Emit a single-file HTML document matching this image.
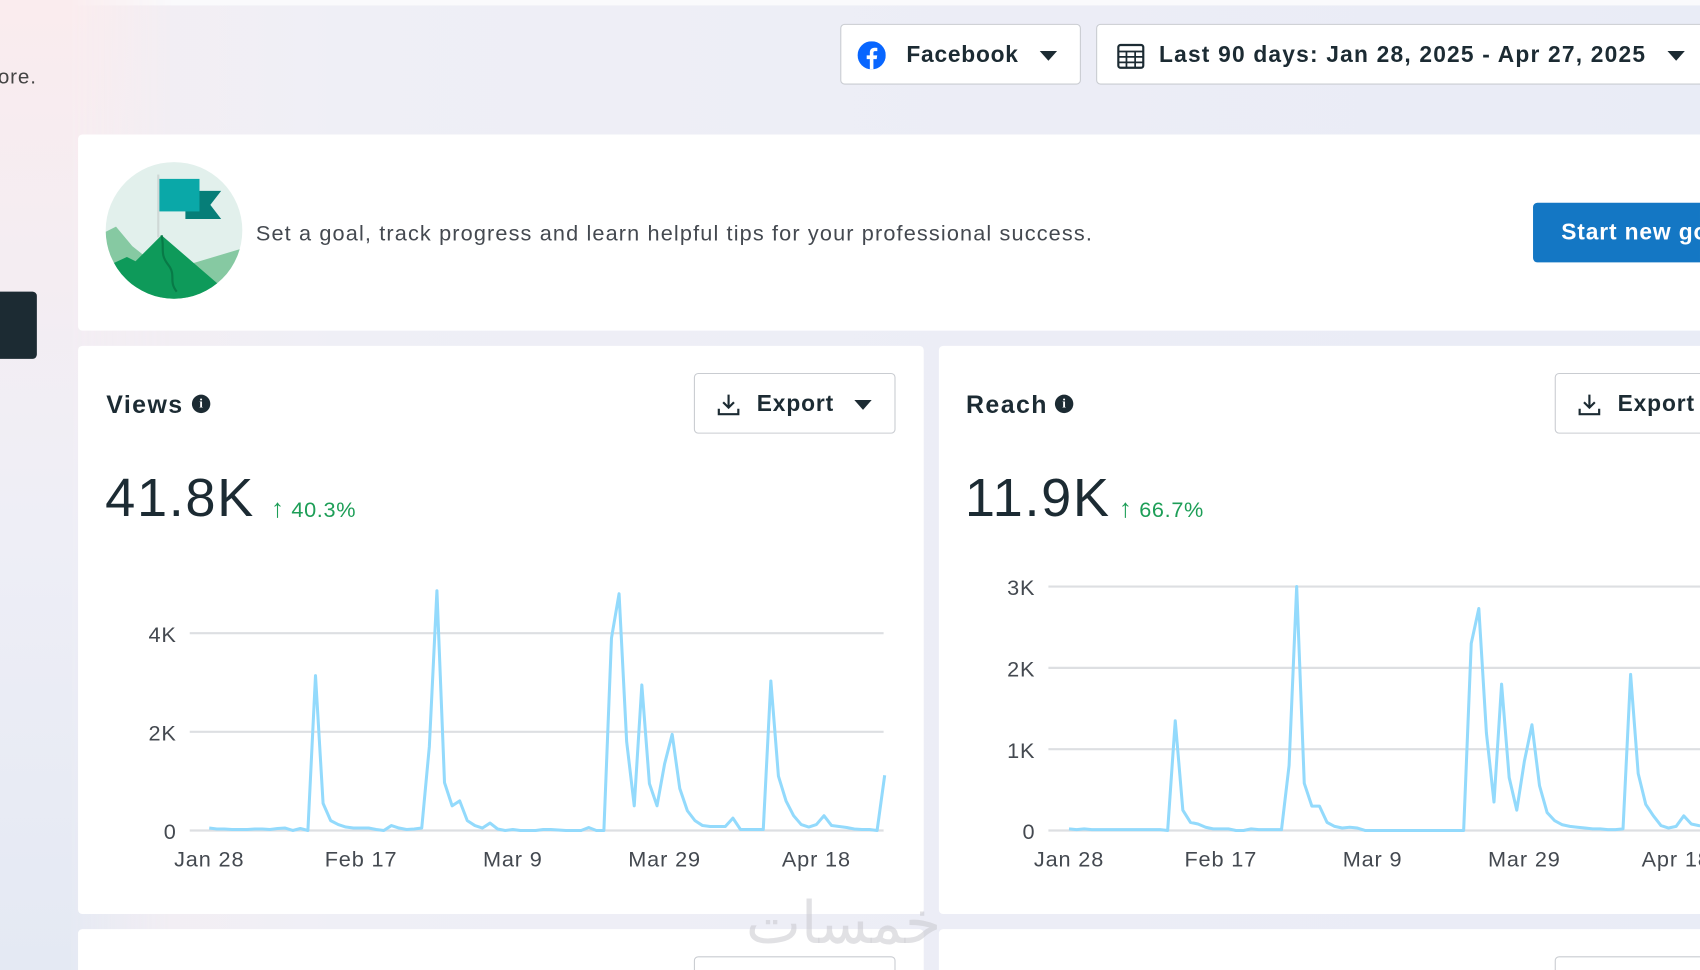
<!DOCTYPE html>
<html><head><meta charset="utf-8">
<style>
html,body{margin:0;padding:0;width:1700px;height:970px;overflow:hidden;}
body{font-family:"Liberation Sans","DejaVu Sans",sans-serif;background:#eeeef5;}
#wrap{position:absolute;left:0;top:0;width:1568px;height:895px;transform:scale(1.08418);transform-origin:0 0;overflow:hidden;
background:linear-gradient(90deg,#f6eef2 0%,#efeff6 20%,#ecedf6 60%,#e9ecf6 100%);}
.abs{position:absolute;}
.card{position:absolute;background:#fff;border-radius:4px;}
.btn{position:absolute;background:#fff;border:1px solid #c9ccd1;border-radius:4px;box-sizing:border-box;font-weight:bold;color:#1c2b33;font-size:21px;}
.caret{position:absolute;width:0;height:0;border-left:8px solid transparent;border-right:8px solid transparent;border-top:9px solid #1c2b33;}
.title{position:absolute;font-size:23px;font-weight:bold;color:#1c2b33;letter-spacing:1.3px;}
.info{position:absolute;width:17px;height:17px;border-radius:50%;background:#1c2b33;color:#fff;font-size:12px;font-weight:bold;text-align:center;line-height:17px;font-family:"Liberation Serif",serif;}
.big{position:absolute;font-size:50px;color:#1c2b33;letter-spacing:1.5px;}
.pct{position:absolute;font-size:20px;color:#1d9e57;letter-spacing:0.6px;}
</style></head><body>
<div id="wrap">
  <div class="abs" style="left:0;top:0;width:1568px;height:5px;background:#fafafc"></div>
  <div class="abs" style="left:0;top:0;width:160px;height:895px;background:linear-gradient(180deg,rgba(250,236,238,1) 0%,rgba(238,238,246,1) 55%,rgba(228,233,243,1) 100%);-webkit-mask-image:linear-gradient(90deg,#000 0%,#000 40%,transparent 100%);mask-image:linear-gradient(90deg,#000 0%,#000 40%,transparent 100%)"></div>
  <div class="abs" style="left:-2px;top:61px;font-size:19px;color:#444;letter-spacing:0.8px">ore.</div>
  <div class="abs" style="left:0;top:269px;width:34px;height:62px;background:#1c2b33;border-radius:0 4px 4px 0"></div>

  <div class="btn" style="left:775px;top:22px;width:222px;height:56px">
    <svg class="abs" style="left:15px;top:15px" width="26" height="26" viewBox="0 0 26 26"><circle cx="13" cy="13" r="13" fill="#0866ff"/><path d="M14.6 26V16.5h3l.5-3.4h-3.5v-2.2c0-1 .3-1.7 1.8-1.7h1.8V6.2c-.3 0-1.4-.1-2.6-.1-2.6 0-4.3 1.6-4.3 4.4v2.6H8.4v3.4h2.9V26z" fill="#fff"/></svg>
    <span class="abs" style="left:60px;top:16px;letter-spacing:0.7px">Facebook</span>
    <div class="caret" style="left:183px;top:24px"></div>
  </div>
  <div class="btn" style="left:1011px;top:22px;width:570px;height:56px">
    <svg class="abs" style="left:18px;top:16px" width="26" height="26" viewBox="0 0 26 26"><rect x="1.5" y="2.5" width="23" height="21" rx="2" fill="none" stroke="#1c2b33" stroke-width="2"/><path d="M1.5 8.5h23M9 8.5v15M17 8.5v15M1.5 13.5h23M1.5 18.5h23" stroke="#1c2b33" stroke-width="1.6"/></svg>
    <span class="abs" style="left:57px;top:16px;letter-spacing:1.1px;white-space:nowrap">Last 90 days: Jan 28, 2025 - Apr 27, 2025</span>
    <div class="caret" style="left:526px;top:24px"></div>
  </div>

  <div class="card" style="left:72px;top:124px;width:1520px;height:181px">
    <svg class="abs" style="left:25px;top:25px" width="127" height="127" viewBox="0 0 127 127">
      <defs><clipPath id="cc"><circle cx="63.5" cy="63.5" r="63"/></clipPath></defs>
      <circle cx="63.5" cy="63.5" r="63" fill="#e2f0ec"/>
      <g clip-path="url(#cc)">
        <path d="M0 65 L10 60 L25 78 L40 90 L60 100 L127 80 L127 127 L0 127Z" fill="#86c9a2"/>
        <path d="M5 95 L20 88 L28 92 L52 68 L110 118 L120 127 L0 127Z" fill="#0e9a5a"/>
        <path d="M52 68 C55 80 50 85 58 95 C66 105 58 110 66 120" fill="none" stroke="#087a47" stroke-width="2"/>
        <rect x="48" y="12" width="2" height="58" fill="#cfd8d6"/>
        <path d="M74 27 H107 L97 40 L107 53 H74Z" fill="#067e78"/>
        <rect x="50" y="16" width="37" height="30" fill="#0aa8a8"/>
      </g>
    </svg>
    <div class="abs" style="left:164px;top:81px;font-size:20px;color:#444950;letter-spacing:1.05px;white-space:nowrap">Set a goal, track progress and learn helpful tips for your professional success.</div>
    <div class="abs" style="left:1342px;top:63px;width:220px;height:55px;background:#1477c4;border-radius:4px;color:#fff;font-weight:bold;font-size:21px;line-height:55px;padding-left:26px;box-sizing:border-box;letter-spacing:0.8px;white-space:nowrap">Start new goal</div>
  </div>

  <div class="card" style="left:72px;top:319px;width:780px;height:524px">
    <div class="title" style="left:26px;top:41px">Views</div>
    <div class="info" style="left:105px;top:45px">i</div>
    <div class="btn" style="left:568px;top:25px;width:186px;height:56px">
      <svg class="abs" style="left:20px;top:17px" width="22" height="22" viewBox="0 0 22 22"><path d="M11 2v12M6 9l5 5 5-5M2 15v5h18v-5" fill="none" stroke="#1c2b33" stroke-width="2"/></svg>
      <span class="abs" style="left:57px;top:16px;letter-spacing:0.8px">Export</span>
      <div class="caret" style="left:147px;top:24px"></div>
    </div>
    <div class="big" style="left:25px;top:111px">41.8K</div>
    <div class="pct" style="left:178px;top:137px"><span style="font-size:24px">&#8593;</span> 40.3%</div>
  </div>

  <div class="card" style="left:866px;top:319px;width:780px;height:524px">
    <div class="title" style="left:25px;top:41px">Reach</div>
    <div class="info" style="left:107px;top:45px">i</div>
    <div class="btn" style="left:568px;top:25px;width:186px;height:56px">
      <svg class="abs" style="left:20px;top:17px" width="22" height="22" viewBox="0 0 22 22"><path d="M11 2v12M6 9l5 5 5-5M2 15v5h18v-5" fill="none" stroke="#1c2b33" stroke-width="2"/></svg>
      <span class="abs" style="left:57px;top:16px;letter-spacing:0.8px">Export</span>
      <div class="caret" style="left:147px;top:24px"></div>
    </div>
    <div class="big" style="left:24px;top:111px">11.9K</div>
    <div class="pct" style="left:166px;top:137px"><span style="font-size:24px">&#8593;</span> 66.7%</div>
  </div>

  <div class="card" style="left:72px;top:857px;width:780px;height:60px">
    <div class="btn" style="left:568px;top:25px;width:186px;height:56px"></div>
  </div>
  <div class="card" style="left:866px;top:857px;width:780px;height:60px">
    <div class="btn" style="left:568px;top:25px;width:186px;height:56px"></div>
  </div>
  <div class="abs" style="left:688px;top:820px;font-size:54px;color:rgba(200,200,205,0.55);font-family:'DejaVu Sans',sans-serif;letter-spacing:3px">خمسات</div>

  <svg id="charts" class="abs" style="left:0;top:0" width="1568" height="895"></svg>
</div>
<script>
const dateLabels = ["Jan 28","Feb 17","Mar 9","Mar 29","Apr 18"];
const dateLabelIdx = [0,20,40,60,80];
const viewsTicks = [0,2,4];
const viewsTickLabels = ["0","2K","4K"];
const reachTicks = [0,1,2,3];
const reachTickLabels = ["0","1K","2K","3K"];
const viewsValues = [0.05,0.03,0.03,0.02,0.02,0.02,0.03,0.03,0.02,0.04,0.05,0.0,0.04,0.0,
3.14,0.55,0.2,0.12,0.07,0.05,0.05,0.05,0.02,0.0,0.1,0.05,0.02,0.03,0.05,
1.7,4.86,0.97,0.5,0.6,0.2,0.1,0.05,0.15,0.03,0.0,0.02,0.0,0.0,0.0,0.02,0.02,0.01,0.0,0.0,0.0,0.06,0.0,0.0,
3.9,4.8,1.8,0.5,2.95,0.95,0.5,1.35,1.95,0.85,0.4,0.2,0.1,0.08,0.08,0.08,0.25,0.02,0.02,0.02,0.02,
3.03,1.1,0.6,0.3,0.12,0.07,0.12,0.3,0.1,0.08,0.06,0.03,0.02,0.02,0.0,1.12];
const reachValues = [0.02,0.01,0.02,0.01,0.01,0.01,0.01,0.01,0.01,0.01,0.01,0.01,0.01,0.0,
1.35,0.25,0.1,0.08,0.04,0.02,0.02,0.02,0.0,0.0,0.02,0.01,0.01,0.01,0.01,
0.8,3.0,0.58,0.3,0.3,0.1,0.05,0.03,0.04,0.03,0.0,0.0,0.0,0.0,0.0,0.0,0.0,0.0,0.0,0.0,0.0,0.0,0.0,0.0,
2.3,2.73,1.2,0.35,1.8,0.65,0.25,0.85,1.3,0.55,0.22,0.12,0.07,0.05,0.04,0.03,0.02,0.02,0.01,0.01,0.02,
1.92,0.7,0.32,0.18,0.06,0.03,0.05,0.18,0.08,0.06,0.05,0.04,0.03,0.03,0.02,0.6];

const svg = document.getElementById('charts');
const NS = 'http://www.w3.org/2000/svg';
function mk(tag, attrs){const e=document.createElementNS(NS,tag);for(const k in attrs)e.setAttribute(k,attrs[k]);svg.appendChild(e);return e;}

function drawChart(name, values, ticks, tickLabels, x0, gridL, gridR, y0, pxPerK){
  const xs = i => x0 + i*7;
  const ys = v => y0 - v*pxPerK;
  ticks.forEach((t,k)=>{
    const g = mk('line',{x1:gridL,x2:gridR,y1:ys(t),y2:ys(t),stroke:'#dddfe2','stroke-width':2});
    
    
    const tx = mk('text',{x:gridL-12,y:ys(t)+8,'text-anchor':'end','font-size':20,fill:'#444950','font-family':'Liberation Sans, sans-serif','letter-spacing':'0.8'});
    tx.textContent = tickLabels[k];
    
    
  });
  dateLabels.forEach((d,k)=>{
    const tx = mk('text',{x:xs(dateLabelIdx[k]),y:y0+33,'text-anchor':'middle','font-size':20,fill:'#444950','font-family':'Liberation Sans, sans-serif','letter-spacing':'0.8'});
    tx.textContent = d;
    
    
  });
  const pts = values.map((v,i)=>xs(i)+','+ys(v)).join(' ');
  const pl = mk('polyline',{points:pts,fill:'none',stroke:'#93dafc','stroke-width':2.8,'stroke-linejoin':'round'});
  
  
}
drawChart('views', viewsValues, viewsTicks, viewsTickLabels, 193, 175, 815, 766, 45.5);
drawChart('reach', reachValues, reachTicks, reachTickLabels, 986, 967, 1600, 766, 75);
</script>
</body></html>
